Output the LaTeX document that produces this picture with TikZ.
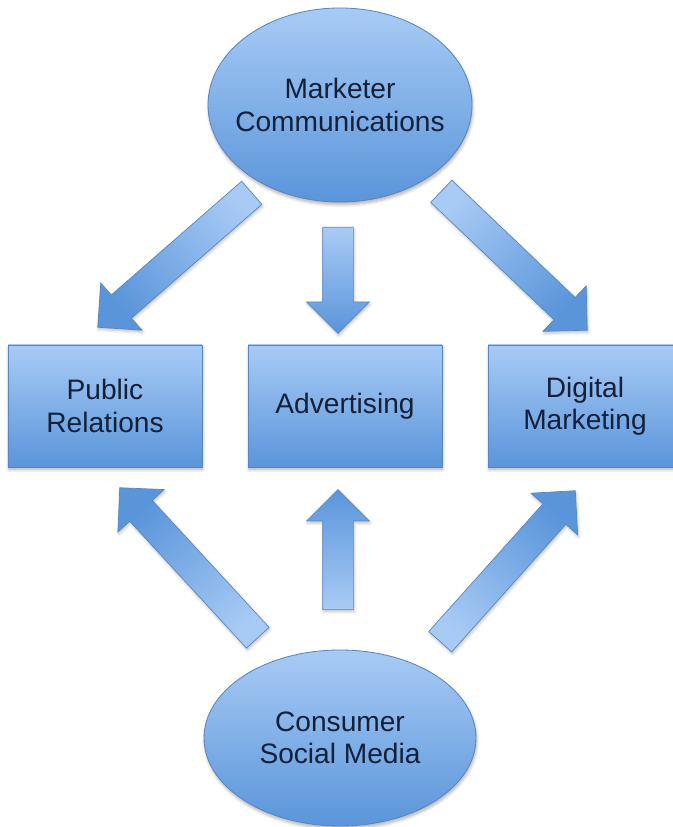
\documentclass[tikz,border=0pt]{standalone}
\usepackage{fontspec}
\setmainfont{Liberation Sans}
\usetikzlibrary{shapes.geometric,shapes.arrows,calc,shadows.blur}

\definecolor{paleblue}{HTML}{A8CBF5}
\definecolor{midblue}{HTML}{5A95DA}
\definecolor{edgeblue}{HTML}{5A86BF}
\definecolor{inkblue}{HTML}{13203A}

\tikzset{
  bluefill/.style={top color=paleblue, bottom color=midblue, draw=edgeblue, line width=0.6pt,
    blur shadow={shadow xshift=0.6pt, shadow yshift=-2pt, shadow blur steps=6, shadow opacity=30}},
  bigtext/.style={align=center, text=inkblue, font=\fontsize{20}{23}\selectfont},
  oval/.style={ellipse, bluefill, inner sep=0pt},
  card/.style={rectangle, bluefill, bigtext, minimum width=4.85cm, minimum height=3.05cm},
  blockarrow/.style={single arrow, single arrow head extend=0.4cm, single arrow tip angle=90,
    inner xsep=0pt, inner ysep=0.375cm, top color=midblue, bottom color=paleblue,
    draw=edgeblue, line width=0.5pt,
    blur shadow={shadow xshift=0.6pt, shadow yshift=-1.5pt, shadow blur steps=5, shadow opacity=25}}
}

% fat arrow from tail #1 to tip #2, node named #3
\newcommand\fatarrow[3]{%
  \path let \p1=($(#2)-(#1)$), \n1={atan2(\y1,\x1)}, \n2={veclen(\x1,\y1)}, \n3={\n1-90} in
    node[blockarrow, shading angle=\n3, rotate=\n1, minimum height=\n2, anchor=tail] (#3) at (#1) {};}

\begin{document}
\begin{tikzpicture}
\useasboundingbox (0,0) rectangle (16.8,20.675);

% sources
\node[oval, minimum width=6.6cm, minimum height=4.85cm,
  label={[bigtext]center:Marketer\\Communications}] (mc) at (8.5,18.05) {};
\node[oval, minimum width=6.8cm, minimum height=4.4cm,
  label={[bigtext]center:Consumer\\Social Media}] (csm) at (8.5,2.225) {};

% channels
\node[card] (pr) at (2.625,10.525) {Public\\Relations};
\node[card] (adv) at (8.625,10.525) {Advertising};
\node[card] (dm) at (14.625,10.525) {Digital\\Marketing};

% arrow ends
\coordinate (mc-pr) at (6.3,15.86);    \coordinate (pr-top) at (2.45,12.5);
\coordinate (mc-adv) at (8.45,15.0);   \coordinate (adv-top) at (8.45,12.35);
\coordinate (mc-dm) at (11.025,15.9);  \coordinate (dm-top) at (14.675,12.425);
\coordinate (csm-pr) at (6.45,4.725);  \coordinate (pr-bot) at (3.0,8.475);
\coordinate (csm-adv) at (8.45,5.425); \coordinate (adv-bot) at (8.45,8.425);
\coordinate (csm-dm) at (11.0,4.625);  \coordinate (dm-bot) at (14.375,8.4);

\fatarrow{mc-pr}{pr-top}{a1}
\fatarrow{mc-adv}{adv-top}{a2}
\fatarrow{mc-dm}{dm-top}{a3}
\fatarrow{csm-pr}{pr-bot}{a4}
\fatarrow{csm-adv}{adv-bot}{a5}
\fatarrow{csm-dm}{dm-bot}{a6}
\end{tikzpicture}
\end{document}
